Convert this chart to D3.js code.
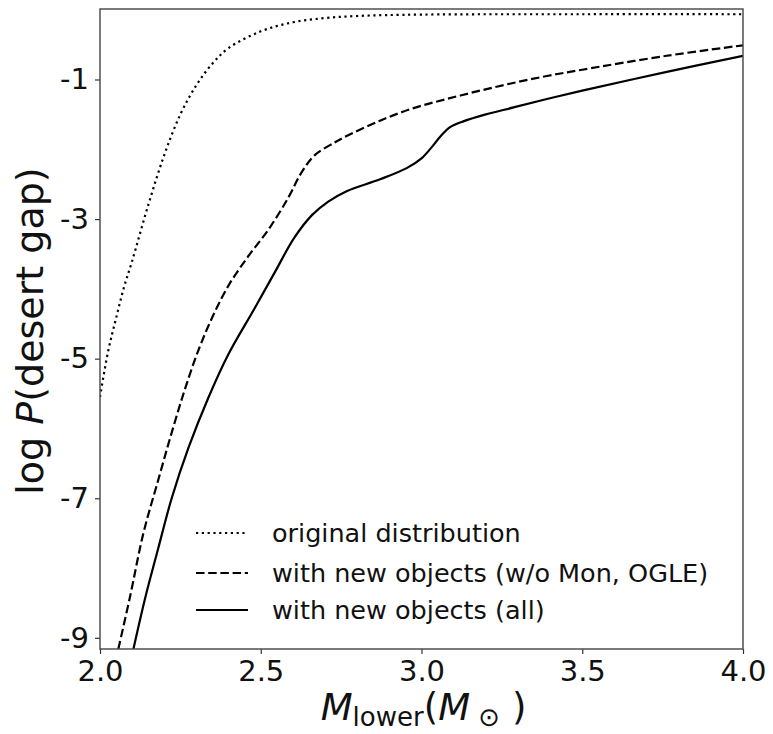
<!DOCTYPE html>
<html>
<head>
<meta charset="utf-8">
<script src="https://cdn.jsdelivr.net/npm/d3@7"></script>
<style>
  body { margin: 0; background: #fff; }
  svg { display: block; }
  text { font-family: "DejaVu Sans", sans-serif; fill: #111; }
</style>
</head>
<body>
<svg id="chart" width="773" height="734"></svg>
<script>
// Lower mass limit of the gap (solar masses) and log-probability of the gap
const massOriginal = [2.0, 2.025, 2.05, 2.075, 2.1, 2.15, 2.2, 2.25, 2.3, 2.35, 2.4, 2.5, 2.6, 2.7, 2.8, 3.0, 3.5, 4.0];
const logPOriginal = [-5.55, -4.9, -4.42, -3.97, -3.6, -2.8, -2.08, -1.5, -1.08, -0.77, -0.55, -0.31, -0.18, -0.12, -0.09, -0.07, -0.065, -0.065];

const massNoMonOgle = [2.057, 2.093, 2.135, 2.181, 2.223, 2.264, 2.306, 2.35, 2.4, 2.46, 2.524, 2.586, 2.627, 2.669, 2.731, 2.767, 2.871, 2.975, 3.078, 3.182, 3.285, 3.39, 3.5, 3.763, 4.0];
const logPNoMonOgle = [-9.16, -8.42, -7.5, -6.74, -6.06, -5.44, -4.88, -4.4, -3.95, -3.54, -3.15, -2.69, -2.33, -2.08, -1.9, -1.81, -1.59, -1.41, -1.28, -1.16, -1.05, -0.95, -0.86, -0.66, -0.51];

const massAll = [2.104, 2.14, 2.181, 2.223, 2.275, 2.337, 2.399, 2.482, 2.544, 2.604, 2.66, 2.71, 2.767, 2.871, 2.954, 3.0, 3.03, 3.06, 3.09, 3.13, 3.2, 3.286, 3.39, 3.5, 3.763, 4.0];
const logPAll = [-9.16, -8.44, -7.72, -7.0, -6.28, -5.56, -4.94, -4.27, -3.76, -3.27, -2.94, -2.75, -2.6, -2.43, -2.27, -2.13, -1.98, -1.81, -1.68, -1.6, -1.5, -1.4, -1.28, -1.16, -0.89, -0.66];

const xTicks = [2.0, 2.5, 3.0, 3.5, 4.0];
const yTicks = [-1, -3, -5, -7, -9];

const seriesLabels = ["original distribution", "with new objects (w/o Mon, OGLE)", "with new objects (all)"];

const svg = d3.select("#chart");

const x = d3.scaleLinear().domain([2.0, 4.0]).range([100, 743]);
const y = d3.scaleLinear().domain([-9.16, 0.01]).range([649, 9]);

const series = [
  { xs: massOriginal, ys: logPOriginal, dash: "2.2,3.6" },
  { xs: massNoMonOgle, ys: logPNoMonOgle, dash: "8.5,3.7" },
  { xs: massAll, ys: logPAll, dash: null }
];

const [x0, x1] = x.range();
const [yb, yt] = y.range();

svg.append("defs").append("clipPath").attr("id", "plotClip")
  .append("rect").attr("x", x0).attr("y", yt)
  .attr("width", x1 - x0).attr("height", yb - yt);

const line = d3.line().x(d => x(d[0])).y(d => y(d[1])).curve(d3.curveCatmullRom.alpha(0.5));

const plot = svg.append("g").attr("clip-path", "url(#plotClip)");
series.forEach(s => {
  const pts = s.xs.map((v, i) => [v, s.ys[i]]);
  plot.append("path")
    .attr("d", line(pts))
    .attr("fill", "none")
    .attr("stroke", "#000")
    .attr("stroke-width", 2.2)
    .attr("stroke-dasharray", s.dash);
});

// Axes
const xAxis = d3.axisBottom(x).tickValues(xTicks).tickFormat(d3.format(".1f")).tickSize(5).tickPadding(6);
const yAxis = d3.axisLeft(y).tickValues(yTicks).tickFormat(d => d).tickSize(5).tickPadding(6);

const gx = svg.append("g").attr("transform", `translate(0,${yb})`).call(xAxis);
const gy = svg.append("g").attr("transform", `translate(${x0},0)`).call(yAxis);
[gx, gy].forEach(g => {
  g.select(".domain").remove();
  g.selectAll(".tick line").attr("stroke", "#333").attr("stroke-width", 1.2);
  g.selectAll(".tick text").attr("font-size", 29).attr("fill", "#111")
    .style("font-family", "DejaVu Sans, sans-serif");
});

// Frame
svg.append("rect")
  .attr("x", x0).attr("y", yt)
  .attr("width", x1 - x0).attr("height", yb - yt)
  .attr("fill", "none").attr("stroke", "#444").attr("stroke-width", 1.4);

// Y label
const yl = svg.append("text")
  .attr("transform", `translate(43,${(yt + yb) / 2 + 2}) rotate(-90)`)
  .attr("text-anchor", "middle")
  .attr("font-size", 38);
yl.append("tspan").text("log ");
yl.append("tspan").attr("font-style", "oblique").text("P");
yl.append("tspan").text("(desert gap)");

// X label
const xl = svg.append("text")
  .attr("x", (x0 + x1) / 2 + 2).attr("y", 720)
  .attr("text-anchor", "middle")
  .attr("font-size", 37);
xl.append("tspan").attr("font-style", "oblique").text("M");
xl.append("tspan").attr("font-size", 26).attr("dy", 6).text("lower");
xl.append("tspan").attr("dy", -6).text("(");
xl.append("tspan").attr("font-style", "oblique").text("M");
xl.append("tspan").attr("font-size", 26).attr("dy", 6).text(" \u2299");
xl.append("tspan").attr("dy", -6).text(" )");

// Legend
const legendY = [533, 573, 610];
const legend = svg.append("g");
series.forEach((s, i) => {
  legend.append("line")
    .attr("x1", 196).attr("x2", 248)
    .attr("y1", legendY[i]).attr("y2", legendY[i])
    .attr("stroke", "#000").attr("stroke-width", 2.2)
    .attr("stroke-dasharray", s.dash);
  legend.append("text")
    .attr("x", 272).attr("y", legendY[i]).attr("dy", "0.35em")
    .attr("font-size", 25.5)
    .text(seriesLabels[i]);
});
</script>
</body>
</html>
